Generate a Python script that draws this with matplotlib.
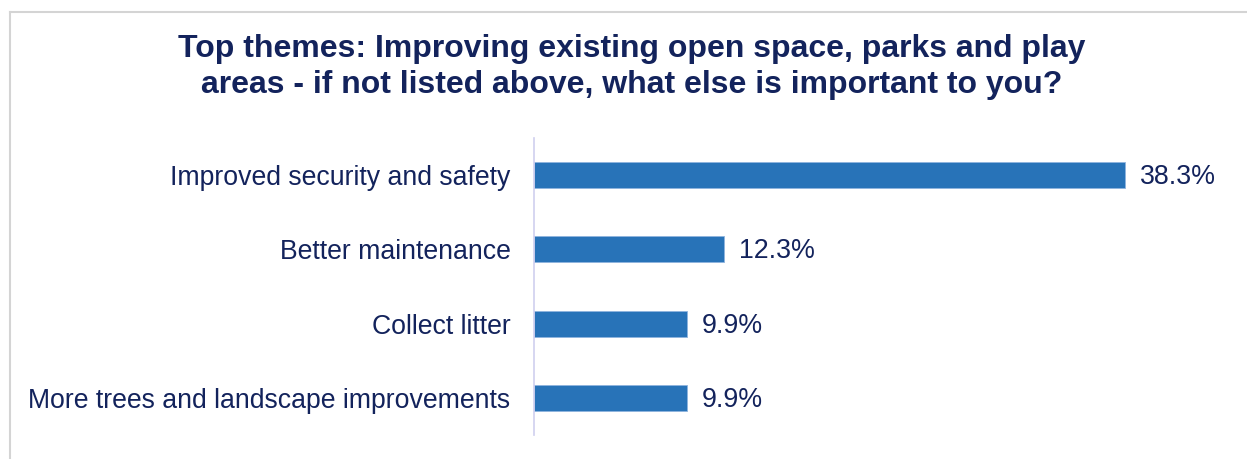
import matplotlib
matplotlib.use("Agg")
import matplotlib.pyplot as plt
from matplotlib.lines import Line2D

categories = ["Improved security and safety", "Better maintenance",
              "Collect litter", "More trees and landscape improvements"]
values = [38.3, 12.3, 9.9, 9.9]
value_labels = ["38.3%", "12.3%", "9.9%", "9.9%"]
title = ("Top themes: Improving existing open space, parks and play\n"
         "areas - if not listed above, what else is important to you?")

W, H = 1247, 459
fig = plt.figure(figsize=(W / 100, H / 100), dpi=100)
fig.patch.set_facecolor("white")
plt.rcParams["font.family"] = ["Liberation Sans", "DejaVu Sans"]

navy = "#13235C"
bar_color = "#2873B8"

# border of the chart area
fig.add_artist(Line2D([10 / W, 10 / W], [0, 1 - 12 / H], transform=fig.transFigure,
                      color="#D4D4D4", lw=1.5))
fig.add_artist(Line2D([10 / W, 1], [1 - 12 / H, 1 - 12 / H], transform=fig.transFigure,
                      color="#D4D4D4", lw=1.5))

left, right = 534 / W, 1230 / W
top, bottom = 1 - 138 / H, 1 - 435 / H
ax = fig.add_axes([left, bottom, right - left, top - bottom])
ypos = list(range(len(categories)))
ax.barh(ypos, values, height=0.35, color=bar_color, edgecolor="#8FB4DE", linewidth=0.6)
ax.set_ylim(len(categories) - 0.5, -0.5)
ax.set_xlim(0, (1230 - 534) / 15.43)
ax.set_yticks(ypos)
ax.set_yticklabels(categories, fontsize=19.2, color=navy)
ax.tick_params(axis="y", length=0, pad=17)
ax.set_xticks([])
for s in ["top", "right", "bottom"]:
    ax.spines[s].set_visible(False)
ax.spines["left"].set_color("#CFCFEF")
ax.spines["left"].set_linewidth(1.2)
for y, v, lab in zip(ypos, values, value_labels):
    ax.annotate(lab, (v, y), xytext=(11, -1.5), textcoords="offset points",
                va="center", ha="left", fontsize=19.3, color=navy)

fig.text(632 / W, 1 - 67 / H, title, ha="center", va="center", fontsize=23,
         fontweight="bold", color=navy, linespacing=1.3)

fig.savefig("out.png", dpi=100)
